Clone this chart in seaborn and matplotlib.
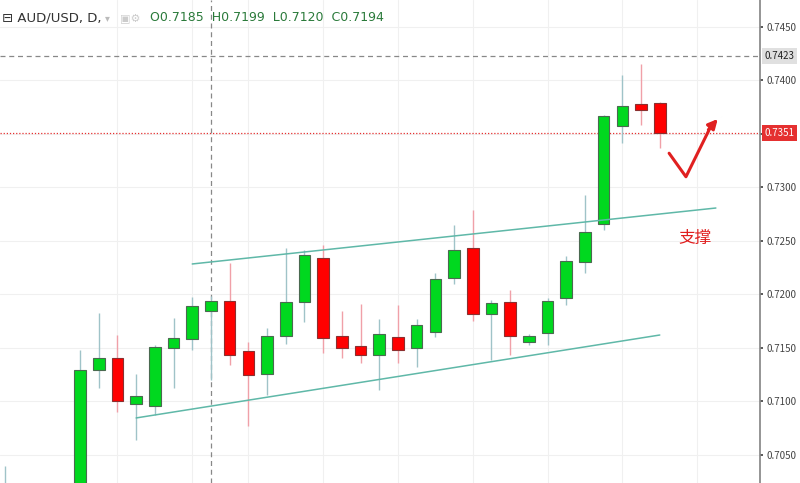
import numpy as np
import matplotlib
matplotlib.use("Agg")
from matplotlib import pyplot as plt
import seaborn as sns

sns.set_theme(style="white")
plt.rcParams['font.family'] = ['Noto Sans CJK SC', 'DejaVu Sans']

# ------------------------------ DATA ------------------------------
opens = [0.7010, 0.7129, 0.7141, 0.7098, 0.7096, 0.7150, 0.7158, 0.7185, 0.7194, 0.7147,
         0.7126, 0.7161, 0.7193, 0.7234, 0.7161, 0.7152, 0.7143, 0.7160, 0.7150, 0.7165,
         0.7215, 0.7243, 0.7182, 0.7193, 0.7156, 0.7164, 0.7197, 0.7230, 0.7266, 0.7357,
         0.7378, 0.7379]
closes = [0.7129, 0.7141, 0.7100, 0.7105, 0.7151, 0.7159, 0.7189, 0.7194, 0.7143, 0.7125,
          0.7161, 0.7193, 0.7237, 0.7159, 0.7150, 0.7143, 0.7163, 0.7148, 0.7171, 0.7214,
          0.7242, 0.7182, 0.7192, 0.7161, 0.7161, 0.7194, 0.7231, 0.7258, 0.7367, 0.7376,
          0.7372, 0.7351]
highs = [0.7148, 0.7183, 0.7162, 0.7126, 0.7153, 0.7178, 0.7198, 0.7199, 0.7229, 0.7156,
         0.7169, 0.7243, 0.7242, 0.7246, 0.7185, 0.7191, 0.7177, 0.7190, 0.7177, 0.7220,
         0.7265, 0.7279, 0.7195, 0.7204, 0.7163, 0.7197, 0.7236, 0.7293, 0.7368, 0.7405,
         0.7415, 0.7380]
lows = [0.7000, 0.7113, 0.7090, 0.7064, 0.7087, 0.7113, 0.7148, 0.7120, 0.7134, 0.7077,
        0.7106, 0.7154, 0.7174, 0.7145, 0.7141, 0.7136, 0.7111, 0.7136, 0.7132, 0.7160,
        0.7210, 0.7175, 0.7139, 0.7143, 0.7153, 0.7153, 0.7190, 0.7220, 0.7260, 0.7342,
        0.7358, 0.7337]

upper_channel = ([7, 35], [0.72285, 0.72808])
lower_channel = ([4, 32], [0.70846, 0.71621])
last_close = 0.7351
crosshair_price = 0.7423
crosshair_day = 8
y_ticks = [0.7050, 0.7100, 0.7150, 0.7200, 0.7250, 0.7300, 0.7350, 0.7400, 0.7450]
y_tick_labels = ['0.7050', '0.7100', '0.7150', '0.7200', '0.7250', '0.7300', '', '0.7400', '0.7450']

UP = '#00d81f'
DOWN = '#ff0000'

fig = plt.figure(figsize=(8, 4.83), dpi=100)
ax = fig.add_axes([0, 0, 0.95, 1])

days = np.arange(1, len(opens) + 1)
for d, o, c, h, l in zip(days, opens, closes, highs, lows):
    up = c >= o
    ax.vlines(d, l, h, color='#9fc3c8' if up else '#f0a0a8', lw=1, zorder=2)
    ax.bar(d, abs(c - o), bottom=min(o, c), width=0.62,
           color=UP if up else DOWN, edgecolor='#4a6a50' if up else '#8a3030', lw=0.8, zorder=3)
# partial candle at the left edge
ax.vlines(-3, 0.6990, 0.7040, color='#9fc3c8', lw=1)

ax.plot(*upper_channel, color='#5fb8a8', lw=1.1, zorder=4)
ax.plot(*lower_channel, color='#5fb8a8', lw=1.1, zorder=4)

ax.axhline(last_close, color='#e53030', lw=0.9, ls=(0, (1, 1.5)), zorder=1)
ax.axhline(crosshair_price, color='#888888', lw=0.9, ls=(0, (4, 3)), zorder=1)
ax.axvline(crosshair_day, color='#888888', lw=0.9, ls=(0, (4, 3)), zorder=1)

# check mark
ax.plot([32.5, 33.4, 34.7], [0.7332, 0.7310, 0.7356], color='#e02020', lw=2.2, zorder=5)
ax.annotate('', xy=(35.2, 0.7366), xytext=(34.5, 0.7352),
            arrowprops=dict(arrowstyle='-|>', color='#e02020', lw=2.2, mutation_scale=14))
ax.text(33.9, 0.7252, '支撑', color='#e02020', fontsize=12, va='center', ha='center')

ax.text(0.003, 0.963, '\u229f AUD/USD, D,', transform=ax.transAxes, fontsize=9.5,
        color='#333333', va='center', family=['DejaVu Sans'])
ax.text(0.138, 0.963, '\u25be', transform=ax.transAxes, fontsize=7, color='#bbbbbb', va='center',
        family=['DejaVu Sans'])
ax.text(0.158, 0.963, '\u25a3\u2699', transform=ax.transAxes, fontsize=8, color='#cccccc', va='center',
        family=['DejaVu Sans'])
ax.text(0.197, 0.963, 'O0.7185  H0.7199  L0.7120  C0.7194', transform=ax.transAxes,
        fontsize=9, color='#2a7a3a', va='center', family=['DejaVu Sans'])

ax.set_xlim(-3.28, 37.36)
ax.set_ylim(0.70238, 0.74752)
ax.set_yticks(y_ticks)
ax.set_yticklabels(y_tick_labels)
ax.set_xticks([3, 7, 10, 14, 18, 22, 26, 30, 34])
ax.grid(True, color='#f0f0f0', lw=0.8)
ax.set_axisbelow(True)
ax.tick_params(axis='x', bottom=False, labelbottom=False)
ax.yaxis.tick_right()
ax.tick_params(axis='y', labelsize=7, colors='#444444', length=2, pad=3)
for s in ['top', 'left', 'bottom']:
    ax.spines[s].set_visible(False)
ax.spines['right'].set_color('#888888')

ax.text(1.006, last_close, '%.4f' % last_close, transform=ax.get_yaxis_transform(),
        fontsize=7, color='white', va='center', ha='left', zorder=6,
        bbox=dict(boxstyle='square,pad=0.3', fc='#e53030', ec='none'))
ax.text(1.006, crosshair_price, '%.4f' % crosshair_price, transform=ax.get_yaxis_transform(),
        fontsize=7, color='#222222', va='center', ha='left', zorder=6,
        bbox=dict(boxstyle='square,pad=0.3', fc='#e0e0e0', ec='none'))

plt.savefig('out.png', dpi=100)
